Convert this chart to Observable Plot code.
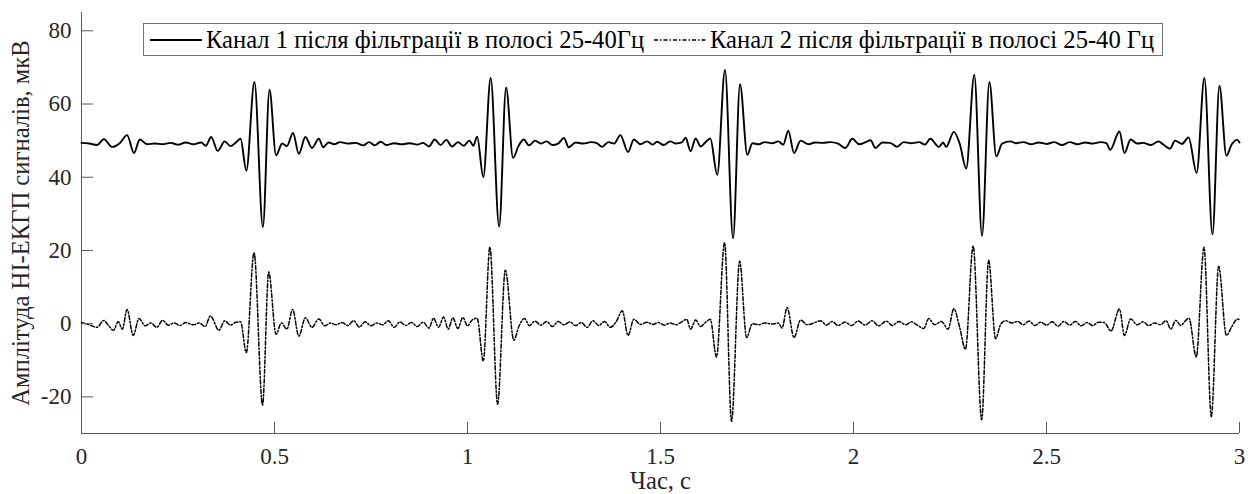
<!DOCTYPE html>
<html><head><meta charset="utf-8">
<script src="https://cdn.jsdelivr.net/npm/d3@7"></script>
<script src="https://cdn.jsdelivr.net/npm/@observablehq/plot@0.6"></script>
<style>
body{margin:0;background:#fff;}
#wrap{position:relative;width:1248px;height:494px;font-family:'Liberation Serif','DejaVu Serif',serif;}
#wrap svg text{font-family:'Liberation Serif','DejaVu Serif',serif;}
#legend{position:absolute;left:143px;top:23px;width:1018px;height:31px;border:1px solid #707070;background:#fff;font-size:24.6px;color:#000;white-space:nowrap;}
#legend span{position:absolute;top:3px;line-height:25px;}
#legend svg{position:absolute;top:13px;}
</style>
</head><body><div id="wrap"></div>
<script>
// Channel 1 (after 25-40 Hz filtering), time in s, amplitude in uV
const t1 = [0.000,0.020,0.040,0.058,0.079,0.099,0.118,0.136,0.151,0.170,0.190,0.210,0.230,0.250,0.270,0.290,0.310,0.322,0.336,0.353,0.371,0.386,0.400,0.412,0.427,0.448,0.470,0.487,0.504,0.520,0.532,0.548,0.563,0.580,0.597,0.615,0.626,0.640,0.655,0.670,0.690,0.710,0.730,0.745,0.760,0.775,0.790,0.810,0.830,0.850,0.870,0.885,0.900,0.915,0.930,0.945,0.960,0.975,0.990,1.005,1.015,1.025,1.041,1.060,1.082,1.100,1.118,1.132,1.146,1.159,1.175,1.190,1.205,1.220,1.235,1.250,1.262,1.280,1.300,1.320,1.335,1.349,1.365,1.380,1.396,1.416,1.431,1.448,1.465,1.480,1.491,1.508,1.525,1.540,1.555,1.565,1.578,1.591,1.604,1.617,1.629,1.647,1.667,1.688,1.706,1.725,1.738,1.755,1.770,1.790,1.805,1.818,1.831,1.846,1.863,1.884,1.900,1.920,1.940,1.960,1.979,1.997,2.015,2.030,2.044,2.057,2.075,2.095,2.113,2.130,2.150,2.170,2.185,2.199,2.221,2.232,2.240,2.260,2.275,2.292,2.313,2.333,2.352,2.370,2.385,2.407,2.420,2.440,2.460,2.480,2.500,2.520,2.540,2.560,2.580,2.600,2.620,2.640,2.655,2.665,2.689,2.702,2.718,2.735,2.750,2.770,2.790,2.803,2.820,2.833,2.851,2.868,2.889,2.909,2.930,2.948,2.966,2.980,2.994,3.000];
const ch1 = [49.4,49.2,48.8,50.4,48.3,49.3,51.5,46.6,50.3,49.0,49.2,49.0,49.4,48.9,49.5,49.0,49.5,48.6,51.0,47.2,49.8,48.5,49.5,50.5,41.8,66.0,26.4,63.9,46.0,49.2,48.5,52.1,46.4,51.0,48.0,50.5,48.2,49.5,49.0,49.6,49.2,49.4,48.7,49.6,48.7,49.7,48.8,49.3,49.0,49.3,48.9,49.4,48.4,50.3,48.8,50.2,48.4,49.6,48.6,50.0,48.6,51.1,40.0,67.1,26.5,64.5,45.3,48.5,50.3,48.7,50.0,49.2,49.8,48.8,49.2,50.7,48.2,49.5,49.2,49.6,49.3,48.3,49.6,49.2,51.5,46.9,50.3,49.0,49.8,48.9,49.7,48.8,49.8,49.2,49.5,50.8,47.1,50.6,48.4,49.6,50.6,40.7,69.3,23.3,65.4,46.1,49.3,49.0,49.6,49.3,49.8,48.9,52.7,46.6,50.0,49.0,49.5,49.4,49.6,49.2,48.0,50.5,49.0,49.5,50.1,48.0,49.5,49.4,48.3,49.6,49.3,49.6,48.9,50.5,48.3,49.5,48.3,52.4,49.2,42.4,68.0,24.0,66.0,45.7,49.2,49.8,49.3,49.6,49.0,49.5,49.1,49.6,48.8,49.6,49.0,49.5,49.2,49.6,49.3,47.5,52.5,46.6,50.3,49.2,49.4,48.8,49.8,48.9,47.8,50.0,49.1,50.9,41.2,67.1,24.4,65.0,45.9,49.0,50.2,49.5];
// Channel 2 (after 25-40 Hz filtering)
const t2 = [0.000,0.020,0.040,0.058,0.070,0.083,0.095,0.106,0.118,0.134,0.149,0.165,0.180,0.195,0.210,0.225,0.240,0.255,0.270,0.290,0.305,0.320,0.334,0.356,0.371,0.386,0.400,0.412,0.427,0.447,0.469,0.485,0.504,0.518,0.532,0.547,0.563,0.580,0.597,0.615,0.630,0.645,0.660,0.675,0.690,0.705,0.720,0.735,0.750,0.765,0.780,0.795,0.810,0.825,0.840,0.855,0.870,0.885,0.900,0.912,0.925,0.938,0.950,0.962,0.975,0.988,1.000,1.012,1.025,1.041,1.058,1.078,1.098,1.120,1.134,1.148,1.160,1.175,1.190,1.205,1.220,1.235,1.250,1.265,1.280,1.295,1.310,1.325,1.340,1.355,1.370,1.385,1.401,1.416,1.431,1.448,1.465,1.480,1.495,1.510,1.525,1.540,1.555,1.568,1.578,1.591,1.604,1.617,1.629,1.645,1.666,1.684,1.705,1.723,1.738,1.755,1.770,1.790,1.805,1.815,1.828,1.846,1.863,1.880,1.900,1.915,1.930,1.945,1.960,1.978,1.995,2.012,2.030,2.048,2.065,2.085,2.100,2.118,2.135,2.150,2.165,2.182,2.195,2.210,2.228,2.245,2.260,2.275,2.290,2.310,2.332,2.350,2.368,2.382,2.395,2.410,2.425,2.440,2.455,2.470,2.485,2.500,2.515,2.530,2.545,2.560,2.575,2.590,2.605,2.620,2.635,2.650,2.667,2.689,2.702,2.718,2.735,2.750,2.765,2.780,2.795,2.810,2.822,2.835,2.848,2.858,2.869,2.888,2.908,2.927,2.946,2.966,2.980,2.995,3.000];
const ch2 = [0.3,-0.3,-1.0,0.9,-0.5,-1.8,0.5,-1.5,3.9,-3.2,1.4,-0.6,0.2,-1.0,0.9,-0.4,0.2,-0.5,0.3,-0.3,0.2,-0.8,2.1,-1.8,0.8,-0.4,0.4,0.5,-7.9,19.4,-22.2,14.1,-2.9,0.2,-1.5,3.9,-3.4,1.6,-1.0,1.3,-0.6,0.2,-0.3,0.3,-0.5,0.8,-0.9,0.5,-0.6,0.2,-0.3,0.8,-1.0,0.5,-0.5,0.3,-0.8,0.4,-1.2,1.5,-1.0,1.8,-1.5,1.6,-1.3,1.7,-0.6,1.0,1.5,-10.2,20.9,-22.0,14.6,-4.5,-0.5,1.4,-0.5,0.7,-0.4,0.6,-0.8,0.6,-0.3,0.5,-0.5,0.3,-1.0,0.8,-0.5,0.6,-1.0,0.5,3.5,-3.2,1.2,-0.2,0.4,-0.2,0.3,-0.4,0.2,-0.3,0.5,1.2,-1.5,1.0,-0.8,0.4,1.2,-9.1,22.1,-26.7,17.1,-3.8,0.0,-0.3,0.2,-0.1,0.2,-1.2,4.4,-3.8,1.0,-0.3,0.3,0.8,-0.4,0.6,-0.5,0.4,-0.5,0.7,-0.4,0.8,-0.6,0.7,-0.5,0.6,-0.3,0.5,-0.4,-1.3,1.4,-0.3,0.6,-1.5,4.1,-1.0,-7.0,21.2,-26.3,17.3,-4.1,0.0,0.8,0.2,0.6,-0.3,0.7,-0.5,0.4,-0.4,0.5,-0.7,0.6,-0.4,0.6,-0.6,0.3,-0.5,0.4,0.3,-2.0,4.0,-3.2,1.3,-0.3,0.5,-0.5,0.2,-0.3,0.8,-1.5,0.9,-0.5,0.6,1.5,-9.1,20.9,-25.4,15.7,-3.2,-0.8,1.3,1.0];
const seriesNames = ["Канал 1 після фільтрації в полосі 25-40Гц", "Канал 2 після фільтрації в полосі 25-40 Гц"];
const xTicks = [0, 0.5, 1, 1.5, 2, 2.5, 3];
const yTicks = [-20, 0, 20, 40, 60, 80];
const xLabel = "Час, с";
const yLabel = "Амплітуда НІ-ЕКГП сигналів, мкВ";

const data1 = t1.map((t, i) => ({t, v: ch1[i]}));
const data2 = t2.map((t, i) => ({t, v: ch2[i]}));
const dash2 = "4,2,1.5,2";
const FONT = "'Liberation Serif','DejaVu Serif',serif";

const chart = Plot.plot({
  width: 1248, height: 494,
  marginLeft: 81, marginRight: 9, marginTop: 12, marginBottom: 61,
  style: {fontFamily: FONT, fontSize: "23px", color: "#262626", background: "#fff", overflow: "visible"},
  x: {domain: [0, 3]},
  y: {domain: [-30, 85]},
  marks: [
    Plot.ruleX([0], {stroke: "#595959", strokeWidth: 1}),
    Plot.ruleY([-30], {stroke: "#595959", strokeWidth: 1}),
    Plot.line(data2, {x: "t", y: "v", stroke: "#000", strokeWidth: 1.5, strokeDasharray: dash2, curve: "monotone-x"}),
    Plot.line(data1, {x: "t", y: "v", stroke: "#000", strokeWidth: 1.9, curve: "monotone-x"}),
    Plot.axisX({ticks: xTicks, tickSize: -11, tickPadding: 25, stroke: "#595959", tickFormat: d => String(d), label: null}),
    Plot.axisX({ticks: [], label: xLabel, labelAnchor: "center", labelOffset: 55, labelArrow: "none", fontSize: 24.6}),
    Plot.axisY({ticks: yTicks, tickSize: -12, tickPadding: 22, stroke: "#595959", tickFormat: d => String(d), label: null}),
    Plot.axisY({ticks: [], label: yLabel, labelAnchor: "center", labelOffset: 70, labelArrow: "none", fontSize: 24.6})
  ]
});
const wrap = document.getElementById("wrap");
wrap.appendChild(chart);

const legend = document.createElement("div");
legend.id = "legend";
legend.innerHTML =
  `<svg width="52" height="6" style="left:6px"><line x1="0" y1="3" x2="52" y2="3" stroke="#000" stroke-width="1.9"/></svg>` +
  `<span style="left:62px">${seriesNames[0]}</span>` +
  `<svg width="53" height="6" style="left:510px"><line x1="0" y1="3" x2="53" y2="3" stroke="#000" stroke-width="1.5" stroke-dasharray="${dash2}"/></svg>` +
  `<span style="left:566px">${seriesNames[1]}</span>`;
wrap.appendChild(legend);
</script>
</body></html>
